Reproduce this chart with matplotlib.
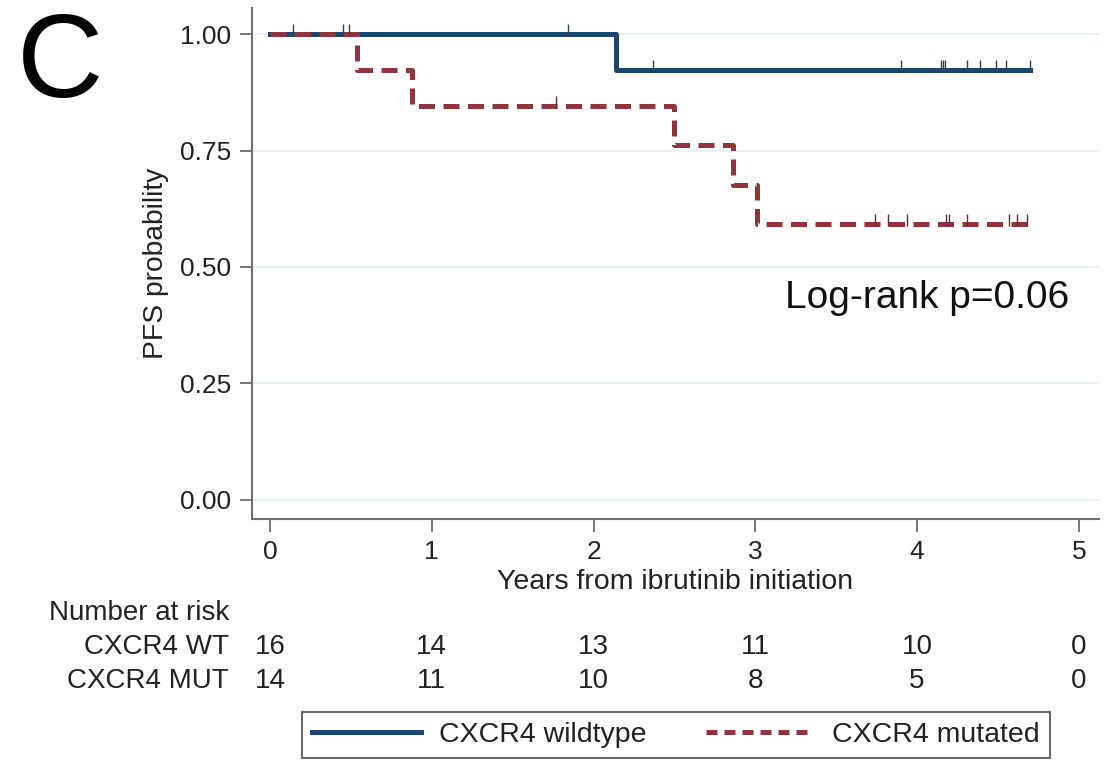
import matplotlib
matplotlib.use("Agg")
import matplotlib.pyplot as plt
from matplotlib.lines import Line2D
from matplotlib.transforms import blended_transform_factory

plt.rcParams['font.family'] = ['Liberation Sans', 'DejaVu Sans']

# Kaplan-Meier step data
wt_time = [0, 2.14, 4.70]
wt_surv = [1.0, 0.923, 0.923]
mut_time = [0, 0.54, 0.88, 2.50, 2.86, 3.01, 4.69]
mut_surv = [1.0, 0.923, 0.846, 0.762, 0.677, 0.592, 0.592]

# censoring marks
wt_cens_t = [0.14, 0.45, 1.84, 2.37, 3.90, 4.15, 4.16, 4.17, 4.31, 4.39, 4.49, 4.55, 4.70]
mut_cens_t = [0.49, 1.77, 3.74, 3.82, 3.94, 4.18, 4.20, 4.31, 4.57, 4.62, 4.68]

years = [0, 1, 2, 3, 4, 5]
risk_wt = [16, 14, 13, 11, 10, 0]
risk_mut = [14, 11, 10, 8, 5, 0]
yticks = [0.0, 0.25, 0.5, 0.75, 1.0]

blue = '#1a476f'
red = '#90353b'
gray = '#6e6e6e'
txt = '#222222'


def surv_at(times, surv, t):
    s = surv[0]
    for ti, si in zip(times, surv):
        if ti <= t:
            s = si
    return s


fig = plt.figure(figsize=(11.14, 7.64), dpi=100)
ax = fig.add_axes([0.2262, 0.3207, 0.7603, 0.6688])

for y in yticks:
    ax.axhline(y, color='#e6eef0', lw=1.2, zorder=0)

ax.step(wt_time, wt_surv, where='post', color=blue, lw=3.6, zorder=3)
ax.step(mut_time, mut_surv, where='post', color=red, lw=3.6,
        dashes=(3.2, 1.7), zorder=4)

ax.plot(wt_cens_t, [surv_at(wt_time, wt_surv, t) + 0.008 for t in wt_cens_t],
        ls='none', marker='|', ms=8, mew=1.0, color='#334455', zorder=5)
ax.plot(mut_cens_t, [surv_at(mut_time, mut_surv, t) + 0.008 for t in mut_cens_t],
        ls='none', marker='|', ms=8, mew=1.0, color='#6a2a30', zorder=5)

ax.set_xlim(-0.111, 5.124)
ax.set_ylim(-0.041, 1.056)
ax.set_xticks(years)
ax.set_yticks(yticks)
ax.set_yticklabels(['%.2f' % v for v in yticks])
for s in ['top', 'right']:
    ax.spines[s].set_visible(False)
for s in ['left', 'bottom']:
    ax.spines[s].set_color(gray)
    ax.spines[s].set_linewidth(1.5)
ax.tick_params(axis='both', colors=gray, labelcolor=txt, labelsize=19,
               length=9, width=1.3, pad=6)

ax.set_ylabel('PFS probability', fontsize=20.3, color=txt, labelpad=8)
ax.set_xlabel('Years from ibrutinib initiation', fontsize=20.5, color=txt)
ax.xaxis.set_label_coords(0.5, -0.098)

ax.text(4.94, 0.433, 'Log-rank p=0.06', fontsize=28, ha='right',
        va='center', color='#111111')

fig.text(0.015, 0.985, 'C', fontsize=86, ha='left', va='top', color='black')

# number at risk table
tr = blended_transform_factory(ax.transData, fig.transFigure)
fig.text(229 / 1114, 1 - 613 / 764, 'Number at risk', fontsize=20,
         ha='right', va='center', color=txt)
fig.text(229 / 1114, 1 - 647 / 764, 'CXCR4 WT', fontsize=20,
         ha='right', va='center', color=txt)
fig.text(229 / 1114, 1 - 681 / 764, 'CXCR4 MUT', fontsize=20,
         ha='right', va='center', color=txt)
for x, a, b in zip(years, risk_wt, risk_mut):
    ax.text(x, 1 - 647 / 764, str(a), transform=tr, fontsize=20,
            ha='center', va='center', color=txt)
    ax.text(x, 1 - 681 / 764, str(b), transform=tr, fontsize=20,
            ha='center', va='center', color=txt)

handles = [Line2D([], [], color=blue, lw=3.6),
           Line2D([], [], color=red, lw=3.6, dashes=(2.2, 1.4))]
leg = fig.legend(handles, ['CXCR4 wildtype', 'CXCR4 mutated'], ncol=2,
                 loc='center', bbox_to_anchor=(676 / 1114, 1 - 735 / 764),
                 fontsize=20.5, handlelength=3.8, handletextpad=0.63,
                 columnspacing=2.1, fancybox=False, borderpad=0.35,
                 borderaxespad=0, frameon=True)
leg.get_frame().set_edgecolor('#444444')
leg.get_frame().set_linewidth(1.5)
for t in leg.get_texts():
    t.set_color(txt)

fig.savefig('out.png', dpi=100)
